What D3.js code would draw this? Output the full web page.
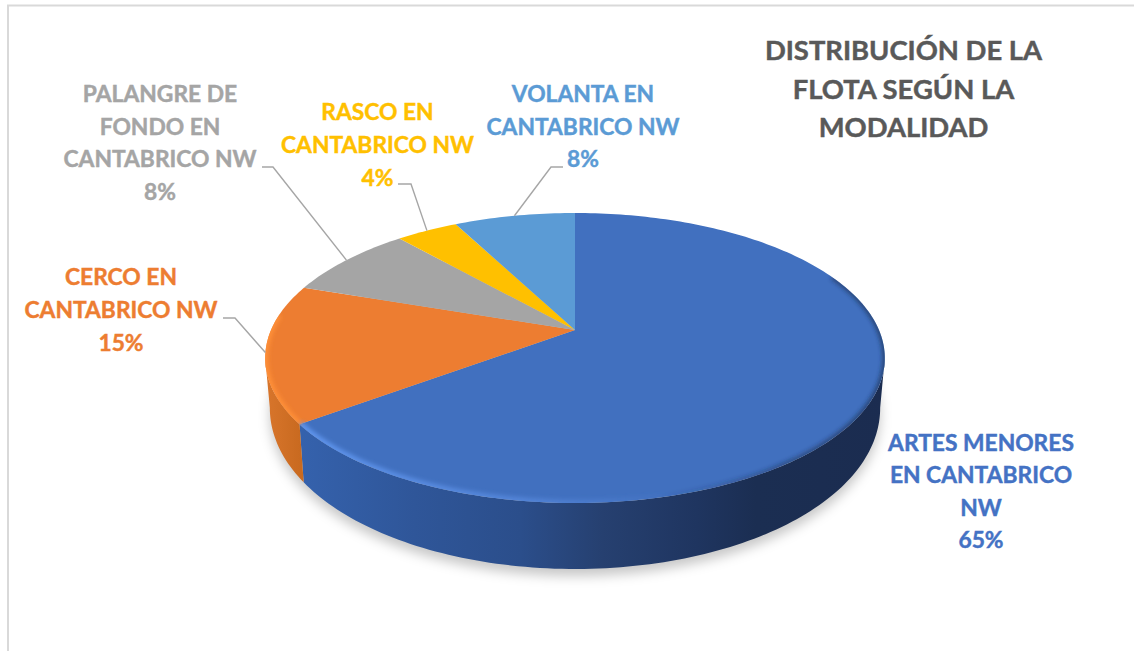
<!DOCTYPE html>
<html>
<head>
<meta charset="utf-8">
<script src="https://cdn.jsdelivr.net/npm/d3@7"></script>
<style>
    html, body { margin: 0; padding: 0; background: #fff; }
    svg { display: block; }
    text { font-family: Lato, sans-serif; font-weight: 700; text-anchor: middle; stroke-width: 0.45; }
</style>
</head>
<body>
<div id="chart"></div>
<script>
// values, in drawing order (clockwise from the top)
var categories = ["ARTES MENORES EN CANTABRICO NW", "CERCO EN CANTABRICO NW",
    "PALANGRE DE FONDO EN CANTABRICO NW", "RASCO EN CANTABRICO NW", "VOLANTA EN CANTABRICO NW"];
var shares = [64.8, 15.4, 8.3, 3.9, 7.6];
var colors = ["#4170bf", "#ed7d31", "#a5a5a5", "#ffc000", "#5b9bd5"];
var labelColors = ["#4472c4", "#ed7d31", "#a5a5a5", "#ffc000", "#5b9bd5"];
var labelLines = [
    ["ARTES MENORES", "EN CANTABRICO", "NW"],
    ["CERCO EN", "CANTABRICO NW"],
    ["PALANGRE DE", "FONDO EN", "CANTABRICO NW"],
    ["RASCO EN", "CANTABRICO NW"],
    ["VOLANTA EN", "CANTABRICO NW"]
];
var titleLines = ["DISTRIBUCIÓN DE LA", "FLOTA SEGÚN LA", "MODALIDAD"];

var width = 1134,
    height = 651;

// label block: centre x, first baseline, and the elbow of the leader (if any)
var labelPos = [
    {x: 981, y: 451, lineH: 32.4},
    {x: 121, y: 284.5, lineH: 33, elbow: [[223, 318], [235, 318]]},
    {x: 160, y: 102, lineH: 32.7, elbow: [[262, 167], [273, 167]]},
    {x: 377.5, y: 119.5, lineH: 33, elbow: [[398, 184], [411, 184]]},
    {x: 583, y: 102, lineH: 32.6, elbow: [[563, 167], [551, 167]]}
];

// The tilted disc: unit circle through a small perspective divide
var pieGeom = {cx: 575, cy: 330, a: 304, b: 139.6, k: 0.193};

function project(t) {
    var w = 1 + pieGeom.k*Math.cos(t);
    return [pieGeom.cx + pieGeom.a*Math.sin(t)/w,
            pieGeom.cy - pieGeom.b*Math.cos(t)/w];
}
// Same point on the lower rim of the disc
function projectLow(t) {
    var p = project(t);
    return [pieGeom.cx + (p[0]-pieGeom.cx)*0.985,
            p[1] + 46 - 20*Math.cos(t)];
}
function sweep(a0, a1) {
    var n = Math.max(2, Math.ceil(Math.abs(a1-a0)/0.02));
    return d3.range(n+1).map(function(i) { return a0 + (a1-a0)*i/n; });
}

var lineFunction = d3.line();

var slices = d3.pie().sort(null).value(function(d) { return d; })(shares);
// angle where the rim is widest, the wall starts there
var tangent = Math.acos(-pieGeom.k);

var svg = d3.select("#chart").append("svg")
    .attr("width", width)
    .attr("height", height);

var defs = svg.append("defs");

function addBlur(id, dev) {
    defs.append("filter")
        .attr("id", id)
        .attr("x", "-20%").attr("y", "-20%")
        .attr("width", "140%").attr("height", "140%")
        .append("feGaussianBlur").attr("stdDeviation", dev);
}
addBlur("soft", 6);
addBlur("edge", 2);

function addGradient(id, x1, x2, stops) {
    var g = defs.append("linearGradient")
        .attr("id", id)
        .attr("gradientUnits", "userSpaceOnUse")
        .attr("x1", x1).attr("x2", x2).attr("y1", 0).attr("y2", 0);
    stops.forEach(function(s) {
        g.append("stop")
            .attr("offset", s[0])
            .attr("stop-color", s[1])
            .attr("stop-opacity", s[2] === undefined ? 1 : s[2]);
    });
}
addGradient("wallBlue", 297, 885, [[0, "#3562ad"], [0.2, "#2f5699"], [0.38, "#2b4e8b"],
    [0.52, "#264070"], [0.68, "#1f3560"], [0.78, "#1b2e52"], [1, "#1b2c50"]]);
addGradient("wallOrange", 264, 300, [[0, "#d9762c"], [1, "#c96a20"]]);
addGradient("glowBlue", 297, 670, [[0, "#5f95ee", 1], [0.6, "#5a8de2", 0.7], [1, "#5a8de2", 0]]);
addGradient("darkRim", 660, 885, [[0, "#1b2e52", 0], [0.6, "#1b2e52", 0.55], [1, "#1b2e52", 0.7]]);

defs.append("clipPath").attr("id", "topClip")
    .append("path")
    .attr("d", lineFunction(sweep(0, 2*Math.PI).map(project)) + "Z");

// frame, only top and left are in the picture
svg.append("path")
    .attr("d", "M1134,5.5H8V651")
    .attr("fill", "none")
    .attr("stroke", "#d9d9d9")
    .attr("stroke-width", 2);

// soft shadow under the disc
svg.append("path")
    .attr("d", lineFunction(sweep(0, 2*Math.PI).map(projectLow)) + "Z")
    .attr("transform", "translate(0,7)")
    .attr("fill", "#000")
    .attr("fill-opacity", 0.22)
    .attr("filter", "url(#soft)");

// side walls of the front slices
function wall(a0, a1) {
    return lineFunction(sweep(a0, a1).map(project).concat(sweep(a1, a0).map(projectLow))) + "Z";
}
svg.append("path")
    .attr("d", wall(tangent, slices[0].endAngle))
    .attr("fill", "url(#wallBlue)");
svg.append("path")
    .attr("d", wall(slices[1].startAngle, 2*Math.PI - tangent))
    .attr("fill", "url(#wallOrange)");

// top face
svg.append("g").selectAll("path")
    .data(slices)
    .enter()
    .append("path")
    .attr("d", function(d) {
        return lineFunction([[pieGeom.cx, pieGeom.cy]].concat(sweep(d.startAngle, d.endAngle).map(project))) + "Z";
    })
    .attr("fill", function(d, i) { return colors[i]; });

// bevel on the rim
var bevel = svg.append("g").attr("clip-path", "url(#topClip)");
function addBevel(a0, a1, stroke, w) {
    bevel.append("path")
        .attr("d", lineFunction(sweep(a0, a1).map(project)))
        .attr("fill", "none")
        .attr("stroke", stroke)
        .attr("stroke-width", w)
        .attr("filter", "url(#edge)");
}
addBevel(slices[0].endAngle - 1.6, slices[0].endAngle, "url(#glowBlue)", 7);
addBevel(slices[1].startAngle, slices[1].startAngle + 0.75, "#ff9038", 6);
addBevel(1.15, 3.0, "url(#darkRim)", 5);

// leader lines, end on the rim at the middle of the slice
svg.append("g").selectAll("path")
    .data(slices)
    .enter()
    .filter(function(d, i) { return labelPos[i].elbow; })
    .append("path")
    .attr("d", function(d) {
        var mid = (d.startAngle + d.endAngle)/2;
        return lineFunction(labelPos[d.index].elbow.concat([project(mid)]));
    })
    .attr("fill", "none")
    .attr("stroke", "#a6a6a6")
    .attr("stroke-width", 1.4);

// data labels
var labels = svg.append("g").selectAll("text")
    .data(slices)
    .enter()
    .append("text")
    .attr("font-size", 22.8)
    .attr("fill", function(d, i) { return labelColors[i]; })
    .attr("stroke", function(d, i) { return labelColors[i]; })
    .attr("data-category", function(d, i) { return categories[i]; });

labels.each(function(d, i) {
    var pos = labelPos[i];
    var lines = labelLines[i].concat([Math.round(d.value) + "%"]);
    d3.select(this).selectAll("tspan")
        .data(lines)
        .enter()
        .append("tspan")
        .attr("x", pos.x)
        .attr("y", function(l, j) { return pos.y + j*pos.lineH; })
        .text(function(l) { return l; });
});

// title
svg.append("g").selectAll("text")
    .data(titleLines)
    .enter()
    .append("text")
    .attr("x", 903.5)
    .attr("y", function(d, i) { return 60 + i*38.5; })
    .attr("font-size", 27.4)
    .attr("fill", "#595959")
    .attr("stroke", "#595959")
    .text(function(d) { return d; });
</script>
</body>
</html>
